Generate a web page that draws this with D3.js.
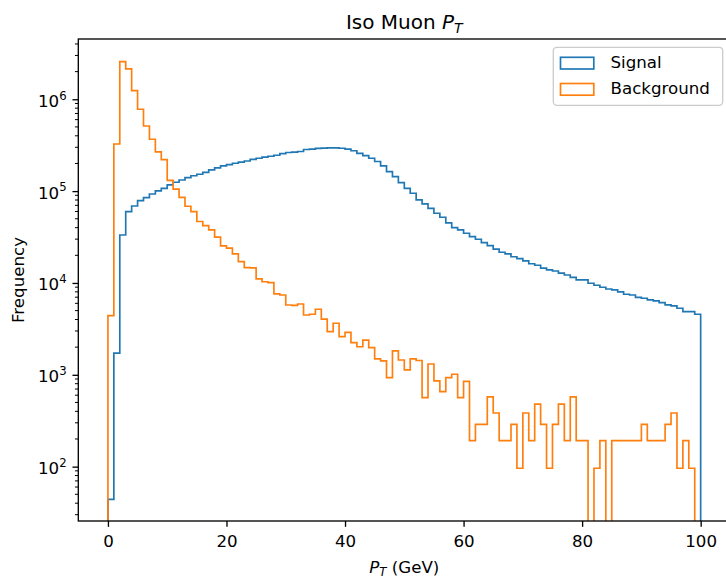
<!DOCTYPE html>
<html><head><meta charset="utf-8">
<script src="https://cdn.jsdelivr.net/npm/d3@7"></script>
<style>
body{margin:0;background:#fff}
svg{display:block}
text{font-family:"DejaVu Sans",sans-serif;fill:#000}
</style>
</head><body>
<svg id="c" width="726" height="580"></svg>
<script>
// ---------- data ----------
const binEdges = d3.range(0, 101);            // 100 bins of 1 GeV from 0 to 100
const signal = [
  44, 1720, 33300, 59700, 68900, 78700, 84900, 93100, 100400, 107000,
  116700, 124800, 132000, 140000, 147000, 152500, 160000, 170000, 178700, 188000,
  194000, 201000, 207000, 212700, 222000, 228000, 234000, 239500, 245600, 255800,
  263000, 266000, 270000, 284000, 287000, 292000, 294000, 295000, 295000, 293000,
  286000, 275000, 258000, 243000, 228000, 210000, 188000, 163000, 143700, 123600,
  107000, 94800, 80200, 72500, 65000, 57400, 51900, 45000, 40000, 37800,
  34800, 31900, 29900, 27500, 25500, 23400, 21600, 20700, 19300, 18400,
  17400, 16200, 15600, 14500, 13900, 13500, 12800, 12200, 11500, 10800,
  10800, 9930, 9440, 8980, 8600, 8400, 7980, 7530, 7400, 6980,
  6810, 6530, 6370, 6100, 5760, 5620, 5300, 4870, 4870, 4560
];
const background = [
  4400, 326000, 2565000, 2138000, 1240000, 778000, 512000, 367000, 267000, 220000,
  131000, 105000, 85300, 68400, 59700, 46700, 42100, 37800, 31500, 25300,
  23900, 20700, 17100, 14700, 14600, 11100, 10300, 10100, 7590, 7400,
  5750, 5700, 5900, 4480, 4560, 5170, 4030, 2950, 3640, 2600,
  2900, 2240, 2020, 2390, 1975, 1490, 1420, 931, 1820, 1450,
  1130, 1490, 1430, 564, 1310, 857, 656, 931, 1014, 564,
  847, 192, 288, 288, 576, 384, 192, 192, 288, 96,
  384, 192, 480, 288, 96, 288, 480, 192, 576, 192,
  192, 0, 96, 192, 0, 192, 192, 192, 192, 192,
  288, 192, 192, 192, 288, 384, 96, 192, 96, 0
];
const seriesNames = ["Signal", "Background"];
const seriesColors = ["#1f77b4", "#ff7f0e"];
const xTicks = [0, 20, 40, 60, 80, 100];
const yTickExponents = [2, 3, 4, 5, 6];
const titleText = "Iso Muon ";
const xLabelTail = " (GeV)";
const yLabelText = "Frequency";

// ---------- layout ----------
const FS = 16.67;
const plot = {left: 78.3, right: 730.3, top: 39, bottom: 521};
const x = d3.scaleLinear().domain([-5, 105]).range([plot.left, plot.right]);
const y = d3.scaleLog().domain([25.6, 4.53e6]).range([plot.bottom, plot.top]);

const svg = d3.select("#c");
svg.append("defs").append("clipPath").attr("id", "clip")
  .append("rect").attr("x", plot.left).attr("y", plot.top)
  .attr("width", plot.right - plot.left).attr("height", plot.bottom - plot.top);

// ---------- histograms (step) ----------
const FLOOR = 1e-2;
function stepPoints(vals) {
  const pts = [[binEdges[0], FLOOR]];
  vals.forEach((v, i) => pts.push([binEdges[i], v > 0 ? v : FLOOR]));
  pts.push([binEdges[binEdges.length - 1], FLOOR]);
  return pts;
}
const line = d3.line().x(d => x(d[0])).y(d => y(d[1])).curve(d3.curveStepAfter);
const g = svg.append("g").attr("clip-path", "url(#clip)");
[signal, background].forEach((vals, k) => {
  g.append("path").attr("d", line(stepPoints(vals)))
    .attr("fill", "none").attr("stroke", seriesColors[k])
    .attr("stroke-width", 1.67).attr("stroke-linejoin", "miter");
});

// ---------- axes ----------
const xAxis = d3.axisBottom(x).tickValues(xTicks).tickSize(5.83).tickSizeOuter(0).tickPadding(5.83);
const gx = svg.append("g").attr("transform", `translate(0,${plot.bottom})`).call(xAxis);
gx.select(".domain").remove();
gx.selectAll(".tick line").attr("stroke", "#000").attr("stroke-width", 1.33);
gx.selectAll(".tick text").attr("font-size", FS).attr("font-family", "DejaVu Sans")
  .attr("fill", "#000").attr("y", 26).attr("dy", null);

const majors = yTickExponents.map(e => Math.pow(10, e));
const yAxis = d3.axisLeft(y).tickValues(majors).tickSize(5.83).tickSizeOuter(0).tickFormat("");
const gy = svg.append("g").attr("transform", `translate(${plot.left},0)`).call(yAxis);
gy.select(".domain").remove();
gy.selectAll(".tick line").attr("stroke", "#000").attr("stroke-width", 1.33);

// minor ticks
const [ylo, yhi] = y.domain();
const minors = [];
for (let e = 1; e <= 6; e++) for (let j = 2; j <= 9; j++) {
  const v = j * Math.pow(10, e);
  if (v >= ylo && v <= yhi) minors.push(v);
}
svg.append("g").selectAll("line").data(minors).join("line")
  .attr("x1", plot.left - 3.33).attr("x2", plot.left)
  .attr("y1", d => y(d)).attr("y2", d => y(d))
  .attr("stroke", "#000").attr("stroke-width", 1);

// y tick labels 10^k
const yl = svg.append("g");
yTickExponents.forEach(e => {
  const t = yl.append("text").attr("x", plot.left - 11.7).attr("y", y(Math.pow(10, e)) + 7.5)
    .attr("text-anchor", "end").attr("font-size", FS);
  t.append("tspan").text("10");
  t.append("tspan").attr("font-size", 11.7).attr("dy", -7.2).text(String(e));
});

// spines
const sp = svg.append("g").attr("stroke", "#000").attr("stroke-width", 1.33).attr("fill", "none");
sp.append("rect").attr("x", plot.left).attr("y", plot.top)
  .attr("width", plot.right - plot.left).attr("height", plot.bottom - plot.top);

// ---------- title & labels ----------
const tt = svg.append("text").attr("x", (plot.left + plot.right) / 2).attr("y", 29)
  .attr("text-anchor", "middle").attr("font-size", 20);
tt.append("tspan").text(titleText);
tt.append("tspan").attr("font-style", "italic").text("P");
tt.append("tspan").attr("font-style", "italic").attr("font-size", 14).attr("dy", 3.6).text("T");

const xl = svg.append("text").attr("x", (plot.left + plot.right) / 2).attr("y", 573)
  .attr("text-anchor", "middle").attr("font-size", FS);
xl.append("tspan").attr("font-style", "italic").text("P");
xl.append("tspan").attr("font-style", "italic").attr("font-size", 11.7).attr("dy", 3).text("T");
xl.append("tspan").attr("dy", -3).text(xLabelTail);

svg.append("text").attr("transform", `translate(23.5,${(plot.top + plot.bottom) / 2}) rotate(-90)`)
  .attr("text-anchor", "middle").attr("font-size", FS).text(yLabelText);

// ---------- legend ----------
const lg = svg.append("g");
lg.append("rect").attr("x", 553.3).attr("y", 47.3).attr("width", 169.4).attr("height", 58)
  .attr("rx", 3.5).attr("fill", "#fff").attr("fill-opacity", 0.8)
  .attr("stroke", "#cccccc").attr("stroke-width", 1.33);
seriesNames.forEach((name, i) => {
  lg.append("rect").attr("x", 560.5).attr("y", 57.3 + i * 26.2).attr("width", 33.3).attr("height", 11.7)
    .attr("fill", "none").attr("stroke", seriesColors[i]).attr("stroke-width", 1.67);
  lg.append("text").attr("x", 610.5).attr("y", 67.5 + i * 26.8).attr("font-size", FS).text(name);
});
</script>
</body></html>
